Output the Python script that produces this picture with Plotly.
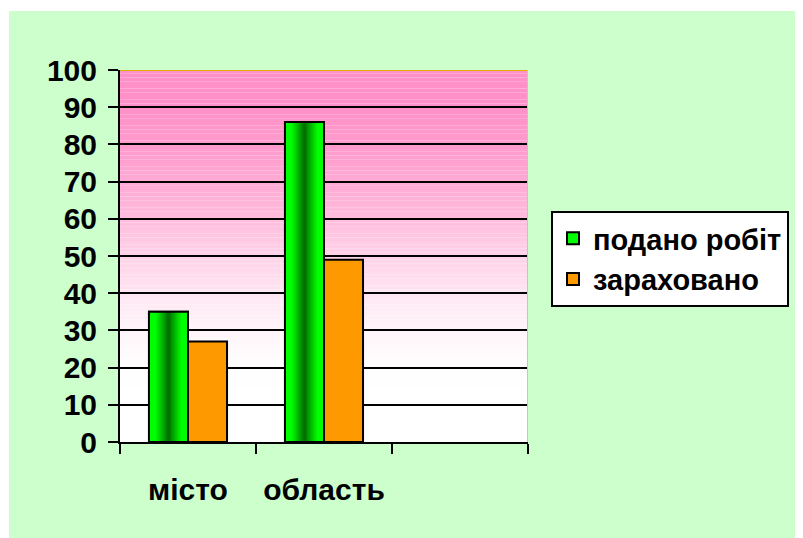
import plotly.graph_objects as go

categories = ["місто", "область", " "]
submitted = [35, 86, None]
accepted = [27, 49, None]
series_names = ["подано робіт", "зараховано"]
y_ticks = [0, 10, 20, 30, 40, 50, 60, 70, 80, 90, 100]

FONT = "Liberation Sans, Arial, sans-serif"
BAR_W = 0.287
N_LAYERS = 16

# the page body adds an 8px margin; figure coordinates are compensated
OFF = 8
W, H = 803 - OFF, 538 - OFF
PL, PR, PT, PB = 120 - OFF, 528 - OFF, 70 - OFF, 442 - OFF

fig = go.Figure()

bright = (0, 255, 0)
dark = (0, 95, 0)
for k in range(N_LAYERS):
    d = 1 - k / N_LAYERS          # distance of this layer's edge from bar centre
    g = min(1.0, d / 0.7) ** 0.9
    c = tuple(int(dark[i] + (bright[i] - dark[i]) * g) for i in range(3))
    wk = BAR_W * d
    fig.add_trace(go.Bar(
        x=categories, y=submitted, name=series_names[0],
        width=wk, offset=-BAR_W / 2 - wk / 2,
        marker=dict(color="rgb(%d,%d,%d)" % c,
                    line=dict(color="black", width=2 if k == 0 else 0)),
        showlegend=(k == 0), hoverinfo="skip" if k else None,
    ))
fig.add_trace(go.Bar(
    x=categories, y=submitted, width=BAR_W, offset=-BAR_W,
    marker=dict(color="rgba(0,0,0,0)", line=dict(color="black", width=2)),
    showlegend=False, hoverinfo="skip",
))
fig.add_trace(go.Bar(
    x=categories, y=accepted, name=series_names[1],
    width=BAR_W, offset=0,
    marker=dict(color="#ff9900", line=dict(color="black", width=2)),
))

pink = (255, 145, 200)
shapes = []
steps = 100
for i in range(steps):
    v0 = i * 100 / steps
    v1 = (i + 1) * 100 / steps
    t = (v0 + v1) / 2 / 100
    s = min(1.0, max(0.0, (t - 0.15) / 0.8))
    f = s * s * (3 - 2 * s)
    c = tuple(int(255 + (pink[j] - 255) * f) for j in range(3))
    shapes.append(dict(type="rect", xref="x", yref="y", x0=-0.5, x1=2.5,
                       y0=v0, y1=v1, fillcolor="rgb(%d,%d,%d)" % c,
                       line=dict(width=0), layer="below"))
shapes.append(dict(type="line", xref="x", yref="y", x0=-0.5, x1=2.5, y0=100, y1=100,
                   line=dict(color="#e0b000", width=2), layer="above"))
shapes.append(dict(type="line", xref="x", yref="y", x0=2.5, x1=2.5, y0=0, y1=100,
                   line=dict(color="#ffcc00", width=2), layer="above"))
ph = PB - PT
pw = PR - PL
shapes.append(dict(type="rect", xref="paper", yref="paper",
                   x0=-1, x1=3, y0=(PB - (11 - OFF)) / ph, y1=2,
                   fillcolor="white", line=dict(width=0), layer="above"))
shapes.append(dict(type="rect", xref="paper", yref="paper",
                   x0=-1, x1=((9 - OFF) - PL) / pw, y0=-1, y1=2,
                   fillcolor="white", line=dict(width=0), layer="above"))

fig.update_layout(
    width=W, height=H,
    margin=dict(l=PL, r=W - PR, t=PT, b=H - PB, autoexpand=False),
    paper_bgcolor="#ccffcc",
    plot_bgcolor="white",
    barmode="overlay",
    shapes=shapes,
    font=dict(family=FONT, color="black"),
    legend=dict(
        x=(551 - 120) / 408, y=(442 - 211) / 372, xanchor="left", yanchor="top",
        bgcolor="white", bordercolor="black", borderwidth=2,
        font=dict(family=FONT, size=29, weight="bold", color="black"),
        traceorder="normal",
    ),
    xaxis=dict(
        type="category", categoryorder="array", categoryarray=categories,
        range=[-0.5, 2.5], tickson="boundaries",
        ticks="outside", ticklen=10, tickwidth=2, tickcolor="black",
        showline=True, linecolor="black", linewidth=2,
        showgrid=False, zeroline=False,
        tickfont=dict(family=FONT, size=30, weight="bold", color="black"),
        ticklabelstandoff=20,
    ),
    yaxis=dict(
        range=[0, 100], tickvals=y_ticks,
        ticks="outside", ticklen=10, tickwidth=2, tickcolor="black",
        showline=True, linecolor="black", linewidth=2,
        showgrid=True, gridcolor="black", gridwidth=2, zeroline=False,
        tickfont=dict(family=FONT, size=30, weight="bold", color="black"),
        ticklabelstandoff=5,
    ),
)

fig.write_html("out.html")
